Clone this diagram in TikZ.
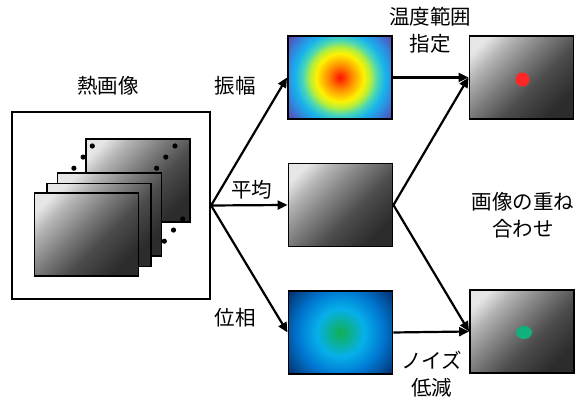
\documentclass[tikz,border=0pt]{standalone}
\usepackage{fontspec}
\setmainfont{Noto Sans CJK JP}
\usepackage{tikz}
\usepackage{xcolor}
\usetikzlibrary{arrows.meta, positioning, calc}

\definecolor{jetred}{HTML}{FF1000}
\definecolor{jetorange}{HTML}{FF8A00}
\definecolor{jetyellow}{HTML}{FFF200}
\definecolor{jetlime}{HTML}{B4EE3C}
\definecolor{jetteal}{HTML}{4CD8B4}
\definecolor{jetcyan}{HTML}{18B4EC}
\definecolor{jetblue}{HTML}{2E8CE0}
\definecolor{jetpurple}{HTML}{5A46AE}
\definecolor{phgreen}{HTML}{10B050}
\definecolor{phcyan}{HTML}{06B0EA}
\definecolor{phblue}{HTML}{0078D2}
\definecolor{phnavy}{HTML}{04306E}
\definecolor{frlight}{HTML}{E6E6E6}
\definecolor{frmid}{HTML}{7C7C7C}
\definecolor{frdark}{HTML}{2C2C2C}
\definecolor{dotred}{HTML}{FF2626}
\definecolor{dotgreen}{HTML}{12B07E}

% radial maps: 25bp is the radius of the shaded circle
\pgfdeclareradialshading{jetmap}{\pgfpoint{0bp}{0bp}}{color(0bp)=(jetred); color(4.5bp)=(jetorange); color(9bp)=(jetyellow); color(11.5bp)=(jetlime); color(14bp)=(jetteal); color(17bp)=(jetcyan); color(20bp)=(jetblue); color(25bp)=(jetpurple); color(50bp)=(jetpurple)}
\pgfdeclareradialshading{phasemap}{\pgfpoint{0bp}{0bp}}{color(0bp)=(phgreen); color(4.5bp)=(phgreen!50!phcyan); color(9bp)=(phcyan); color(16bp)=(phblue); color(25bp)=(phnavy); color(50bp)=(phnavy)}
\pgfdeclareverticalshading{greyframe}{100bp}{color(0bp)=(frdark); color(25bp)=(frdark); color(42bp)=(frdark!60!frmid); color(55bp)=(frmid); color(68bp)=(frmid!50!frlight); color(78bp)=(frlight); color(100bp)=(frlight)}

\begin{document}
\begin{tikzpicture}[x=1pt,y=1pt,
  frame/.style={draw=black, line width=1.9pt, minimum width=104pt, minimum height=83pt, inner sep=0pt},
  monoframe/.style={frame, shade, shading=greyframe, shading angle=45},
  flow/.style={line width=2.2pt, -{Triangle[length=10pt,width=9pt]}},
  lbl/.style={font=\fontsize{20.5}{26.5}\selectfont, align=center, inner sep=0pt}]
\useasboundingbox (0,0) rectangle (587,403);

% input: stack of thermal frames
\node[draw, line width=2.2pt, minimum width=198pt, minimum height=187pt, inner sep=0pt] (thermo) at (111,197.5) {};
\node[lbl] (thermolbl) at (108,317) {熱画像};
\node[monoframe] (fr4) at (138,222.5) {};
\foreach \cx/\cy in {92.3/257, 175/257, 182.7/184}
  \foreach \k in {0,1,2}
    \fill ($(\cx,\cy)+(-9.2*\k,-11.1*\k)$) circle (2.6);
\node[monoframe] (fr3) at (109.5,188.5) {};
\node[monoframe] (fr2) at (99,178) {};
\node[monoframe] (fr1) at (86.5,168.5) {};

% amplitude / average / phase
\node[frame, path picture={\shade[shading=jetmap] (path picture bounding box.center) circle (66);}] (amp) at (340,325.5) {};
\node[monoframe] (avg) at (340.5,198) {};
\node[frame, path picture={\shade[shading=phasemap] (path picture bounding box.center) circle (66);}] (phase) at (340.5,70.5) {};

% results
\node[monoframe] (hot) at (521.5,325.5) {};
\node[monoframe] (cool) at (522,71.5) {};
\fill[dotred] ($(hot.center)+(1,-2)$) circle (7);
\fill[dotgreen] ($(cool.center)+(2,-1)$) ellipse (8 and 6.5);

% connectors
\coordinate (fork) at (thermo.east);
\draw[flow] (fork) -- (amp.west);
\draw[flow] (fork) -- (avg.west);
\draw[flow] (fork) -- (phase.west);
\draw[flow] (amp.east) -- (hot.west);
\draw[flow] (avg.east) -- (hot.west);
\draw[flow] (avg.east) -- (cool.west);
\draw[flow] (phase.east) -- (cool.west);

% labels
\node[lbl] (amplbl) at (235,317) {振幅};
\node[lbl] (avglbl) at (251.7,213) {平均};
\node[lbl] (phaselbl) at (235,85) {位相};
\node[lbl] (rangelbl) at (430,372.6) {温度範囲\\指定};
\node[lbl] (overlaylbl) at (523,188) {画像の重ね\\合わせ};
\node[lbl] (noiselbl) at (431.7,29) {ノイズ\\低減};
\end{tikzpicture}
\end{document}
